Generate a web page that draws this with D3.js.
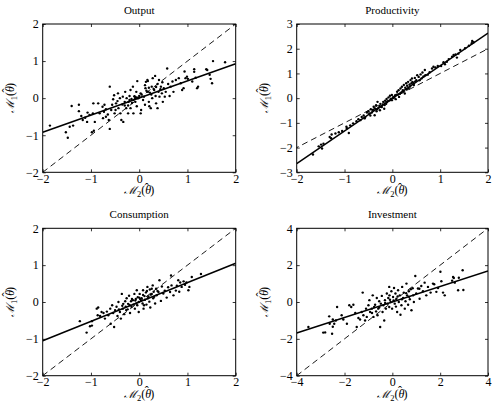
<!DOCTYPE html>
<html>
<head>
<meta charset="utf-8">
<script src="https://cdn.jsdelivr.net/npm/d3@7"></script>
<style>
  body { margin: 0; background: #fff; }
  text { font-family: 'Liberation Serif', 'Times New Roman', serif; fill: #000; }
</style>
</head>
<body>
<div id="chart"></div>
<script>

// Data

const titles = ['Output', 'Productivity', 'Consumption', 'Investment']

const xDomains = [[-2, 2], [-2, 2], [-2, 2], [-4, 4]]
const yDomains = [[-2, 2], [-3, 3], [-2, 2], [-4, 4]]

const xTicks = [[-2, -1, 0, 1, 2], [-2, -1, 0, 1, 2], [-2, -1, 0, 1, 2], [-4, -2, 0, 2, 4]]
const yTicks = [[-2, -1, 0, 1, 2], [-3, -2, -1, 0, 1, 2, 3], [-2, -1, 0, 1, 2], [-4, -2, 0, 2, 4]]

// solid fitted lines (endpoints)
const fitLines = [
  [[-2, -0.92], [2, 0.93]],
  [[-2, -2.65], [2, 2.63]],
  [[-2, -1.05], [2, 1.05]],
  [[-4, -1.68], [4, 1.68]]
]

// dashed 45 degree lines
const diagLines = [
  [[-2, -2], [2, 2]],
  [[-3, -3], [3, 3]],
  [[-2, -2], [2, 2]],
  [[-4, -4], [4, 4]]
]

const outputPts = [
  [-1.85,-0.74],[-1.48,-1.07],[-1.52,-0.92],[-1.44,-0.77],[-1.37,-0.74],[-1.40,-0.21],[-1.25,-0.18],[-1.25,-0.35],
  [-1.20,-0.48],[-1.17,-0.59],[-1.12,-0.53],[-1.08,-0.64],[-1.07,-0.39],[-1.03,-0.45],[-0.96,-0.41],[-0.95,-0.14],
  [-0.92,-0.64],[-0.94,-0.88],[-0.98,-0.92],[-0.85,-0.14],[-0.82,-0.41],[-0.76,-0.23],[-0.75,-0.54],[-0.73,-0.37],
  [-0.72,-0.18],[-0.69,-0.50],[-0.69,-0.30],[-0.65,-0.44],[-0.63,-0.59],[-0.61,-0.83],[-0.61,0.31],[-0.58,-0.32],
  [-0.56,-0.18],[-0.54,-0.03],[-0.52,0.08],[-0.51,-0.41],[-0.49,-0.32],[-0.48,-0.14],[-0.45,-0.08],[-0.44,0.13],
  [-0.43,-0.27],[-0.40,0.00],[-0.39,-0.41],[-0.37,-0.59],[-0.35,-0.17],[-0.34,0.04],[-0.33,-0.64],[-0.30,-0.10],
  [-0.29,0.17],[-0.27,-0.27],[-0.26,0.00],[-0.23,-0.41],[-0.23,-0.20],[-0.22,-0.10],[-0.20,0.06],[-0.18,0.22],
  [-0.18,-0.27],[-0.16,-0.02],[-0.15,-0.13],[-0.13,0.31],[-0.12,-0.41],[-0.09,0.04],[-0.08,-0.10],[-0.06,0.17],
  [-0.05,-0.22],[-0.02,0.00],[0.00,0.06],[-0.12,-0.05],[-0.08,0.00],[-0.20,-0.05],[-0.30,-0.20],[-0.04,0.46],
  [0.03,0.13],[0.04,-0.32],[0.03,-0.41],[0.10,0.04],[0.12,-0.18],[0.13,0.27],[0.14,0.44],[0.17,0.49],
  [0.18,0.17],[0.20,-0.10],[0.21,-0.22],[0.24,-0.27],[0.26,0.31],[0.27,0.00],[0.28,0.54],[0.31,0.22],
  [0.33,0.60],[0.34,0.06],[0.35,-0.14],[0.38,-0.27],[0.38,0.38],[0.40,0.17],[0.41,0.49],[0.42,0.04],
  [0.45,0.31],[0.47,0.13],[0.48,0.43],[0.49,-0.10],[0.51,0.27],[0.53,0.04],[0.55,0.17],[0.58,0.80],
  [0.60,0.38],[0.63,0.06],[0.65,0.31],[0.69,0.45],[0.71,0.17],[0.76,0.49],[0.82,0.54],[0.86,0.40],
  [0.89,0.22],[0.92,0.27],[0.96,0.54],[0.99,0.58],[1.01,0.52],[1.10,0.45],[1.14,0.71],[1.17,0.55],
  [1.20,0.27],[1.22,0.31],[1.41,0.76],[1.46,0.63],[1.48,0.52],[1.51,0.40],[1.53,1.00],[1.78,0.97],
  [0.94,0.72],[1.14,0.78],[1.39,0.78],[0.18,0.46],[-0.10,0.05],[0.05,0.10],[0.15,0.20],[0.22,0.15],
  [0.30,0.25],[0.25,0.10],[0.08,-0.05],[-0.05,0.02],[0.35,0.30],[0.44,0.24],[0.12,0.35],[0.20,0.28]
]

const productivityPts = [
  [-1.66,-2.28],[-1.54,-1.95],[-1.47,-2.04],[-1.49,-1.88],[-1.44,-1.84],[-1.31,-1.57],[-1.27,-1.47],[-1.28,-1.62],
  [-1.19,-1.43],[-0.96,-1.16],[-0.95,-1.22],[-0.91,-1.41],[-0.88,-1.10],[-0.75,-0.93],[-0.71,-0.85],[-0.67,-0.89],
  [-0.64,-0.76],[-0.60,-0.70],[-0.57,-0.78],[-0.53,-0.58],[-0.50,-0.53],[-0.48,-0.62],[-0.45,-0.45],[-0.43,-0.58],
  [-0.41,-0.49],[-0.39,-0.35],[-0.37,-0.69],[-0.36,-0.43],[-0.34,-0.29],[-0.33,-0.53],[-0.31,-0.15],[-0.29,-0.40],
  [-0.27,-0.32],[-0.26,-0.49],[-0.25,-0.23],[-0.22,-0.36],[-0.20,-0.27],[-0.19,-0.15],[-0.17,-0.43],[-0.15,-0.10],
  [-0.13,-0.23],[-0.12,-0.03],[-0.11,-0.16],[-0.08,0.03],[-0.06,-0.10],[-0.05,0.10],[-0.03,-0.07],[-0.01,0.13],
  [0.01,0.00],[-0.01,-0.08],[0.02,0.05],[0.06,0.12],[0.07,-0.04],[0.10,0.26],[0.12,0.15],[0.13,0.32],
  [0.14,0.05],[0.17,0.39],[0.19,0.23],[0.20,0.46],[0.22,0.32],[0.24,0.53],[0.26,0.19],[0.27,0.42],
  [0.29,0.60],[0.31,0.50],[0.33,0.66],[0.34,0.39],[0.36,0.55],[0.38,0.73],[0.40,0.60],[0.41,0.80],
  [0.42,0.66],[0.45,0.53],[0.47,0.82],[0.50,0.73],[0.52,0.93],[0.55,0.86],[0.59,0.96],[0.61,0.80],
  [0.63,1.04],[0.68,1.14],[0.69,0.93],[0.83,1.20],[0.86,1.27],[0.90,1.24],[1.07,1.45],[1.10,1.37],
  [1.14,1.47],[1.25,1.68],[1.28,1.75],[1.32,1.77],[1.35,1.64],[1.42,1.95],[1.67,2.31],[1.70,2.26],
  [1.66,2.22],[-1.12,-1.38],[-1.05,-1.33],[-0.82,-1.02],[-0.58,-0.82],[-0.46,-0.70],[-0.40,-0.47],[-0.32,-0.45],
  [-0.24,-0.35],[-0.16,-0.28],[-0.09,-0.12],[-0.03,-0.02],[0.04,0.02],[0.09,0.14],[0.16,0.18],[0.23,0.28],
  [0.30,0.35],[0.37,0.47],[0.44,0.62],[0.48,0.68],[0.57,0.72],[0.65,0.88],[0.74,0.95],[0.78,1.05],
  [0.95,1.30],[1.02,1.30],[1.18,1.58],[1.38,1.80],[1.52,2.02],[1.60,2.12]
]

const consumptionPts = [
  [-1.23,-0.52],[-1.09,-0.83],[-1.02,-0.66],[-0.98,-0.64],[-0.98,-0.52],[-0.88,-0.18],[-0.85,-0.15],[-0.86,-0.36],
  [-0.81,-0.38],[-0.78,-0.27],[-0.74,-0.30],[-0.71,-0.45],[-0.67,-0.26],[-0.64,-0.36],[-0.60,-0.18],[-0.59,-0.59],
  [-0.56,-0.09],[-0.54,-0.30],[-0.52,-0.68],[-0.50,-0.22],[-0.47,-0.13],[-0.45,-0.38],[-0.43,0.00],[-0.40,-0.27],
  [-0.38,-0.45],[-0.36,0.22],[-0.34,-0.18],[-0.33,-0.05],[-0.31,-0.33],[-0.29,0.02],[-0.28,-0.13],[-0.26,0.10],
  [-0.24,-0.20],[-0.23,-0.05],[-0.21,0.17],[-0.19,-0.30],[-0.17,0.02],[-0.16,-0.13],[-0.15,0.08],[-0.12,-0.07],
  [-0.10,0.22],[-0.09,-0.18],[-0.08,0.04],[-0.05,0.32],[-0.04,-0.09],[-0.03,0.13],[-0.01,0.00],[-0.01,-0.27],
  [0.01,0.22],[0.02,0.08],[0.08,0.32],[0.10,-0.09],[0.05,0.10],[0.07,-0.04],[0.08,0.19],[0.09,-0.18],
  [0.12,0.06],[0.14,0.26],[0.15,-0.07],[0.17,0.41],[0.19,0.15],[0.21,0.01],[0.22,0.34],[0.23,-0.15],
  [0.26,0.22],[0.28,0.45],[0.29,0.10],[0.30,0.28],[0.33,-0.04],[0.35,0.36],[0.36,0.18],[0.40,0.27],
  [0.42,0.59],[0.45,0.03],[0.47,0.42],[0.50,0.23],[0.53,0.31],[0.57,0.12],[0.60,0.40],[0.64,0.27],
  [0.67,0.45],[0.71,0.18],[0.76,0.31],[0.78,0.44],[0.81,0.59],[0.83,0.28],[0.85,0.53],[0.88,0.41],
  [0.92,0.56],[0.95,0.47],[0.98,0.53],[1.02,0.32],[1.04,0.41],[1.09,0.68],[1.28,0.76],[0.66,0.72],
  [-0.20,-0.08],[-0.13,0.05],[-0.06,-0.04],[0.00,0.12],[0.04,0.04],[0.11,0.16],[0.18,0.10],[0.24,0.20],
  [0.31,0.14],[0.38,0.30],[-0.27,-0.22],[-0.35,-0.10],[-0.42,-0.20],[-0.07,0.08],[0.16,0.30],[0.26,0.36]
]

const investmentPts = [
  [-3.51,-1.36],[-2.89,-1.66],[-2.64,-0.78],[-2.62,-1.18],[-2.49,-1.34],[-2.52,-1.72],[-2.43,-1.18],[-2.36,-1.00],
  [-2.31,-0.27],[-2.49,-0.95],[-2.12,-0.72],[-2.05,-0.95],[-1.90,-1.18],[-1.80,-0.18],[-1.72,-0.27],[-1.63,-0.15],
  [-1.49,-1.36],[-1.42,-0.87],[-1.35,-0.95],[-1.28,-0.54],[-1.24,0.51],[-1.21,-0.72],[-1.14,-1.00],[-1.10,-0.36],
  [-1.07,-0.81],[-1.00,-0.18],[-0.96,0.10],[-0.93,-0.54],[-0.86,-0.36],[-0.82,0.36],[-0.79,-0.81],[-0.76,-0.27],
  [-0.72,-0.15],[-0.68,-0.51],[-0.65,0.22],[-0.62,-0.72],[-0.59,-0.36],[-0.55,0.04],[-0.51,-1.36],[-0.48,-0.09],
  [-0.44,0.33],[-0.41,-0.54],[-0.38,-0.18],[-0.34,-1.00],[-0.31,0.10],[-0.27,-0.36],[-0.23,0.46],[-0.20,-0.09],
  [-0.17,0.22],[-0.13,-0.27],[-0.13,0.82],[-0.12,0.36],[-0.07,0.00],[-0.04,0.58],[-0.01,-0.36],[0.03,0.27],
  [0.07,0.76],[0.10,-0.09],[0.13,0.46],[0.17,0.18],[0.20,-0.54],[0.24,0.64],[0.27,0.00],[0.31,0.36],
  [0.34,-0.69],[0.38,-0.18],[0.41,0.82],[0.45,0.22],[0.48,0.51],[0.52,-0.36],[0.55,0.04],[0.59,1.00],
  [0.62,0.36],[0.66,-0.15],[0.69,0.58],[0.73,0.15],[0.77,0.69],[0.80,-0.45],[0.87,0.36],[0.90,0.00],
  [0.96,1.41],[1.00,0.46],[1.07,0.73],[1.14,0.18],[1.21,0.87],[1.28,0.58],[1.35,1.05],[1.42,0.36],
  [1.49,0.82],[1.60,0.51],[1.70,1.00],[1.84,0.55],[1.91,0.76],[2.05,1.13],[2.12,0.51],[2.19,0.36],
  [2.54,1.36],[2.61,1.05],[2.75,0.64],[2.78,1.32],[2.57,1.30],[2.94,1.72],[2.01,1.64],[1.13,0.72],
  [1.75,0.96],[2.50,1.16],[2.97,0.65],[-2.81,-1.65],[-0.30,-0.05],[-0.10,0.12],[0.05,0.08],[0.22,0.30],
  [0.40,0.15],[0.58,0.48],[0.70,0.28],[-0.55,-0.30],[-0.85,-0.60],[-1.55,-0.60],[0.15,-0.25],[0.85,0.75]
]

const panels = [outputPts, productivityPts, consumptionPts, investmentPts]

// Layout of the four axes boxes
const boxes = [
  { left: 42.7, right: 235.7, top: 24, bottom: 172.3 },
  { left: 296.7, right: 488, top: 24, bottom: 172.3 },
  { left: 42.7, right: 235.7, top: 228.3, bottom: 375.7 },
  { left: 296.7, right: 488, top: 228.3, bottom: 375.7 }
]

const svg = d3.select('#chart').append('svg')
  .attr('width', 492)
  .attr('height', 410)

// M_k(theta-hat), hat drawn as a separate glyph over the theta
function mathLabel(t, sub) {
  t.append('tspan').style('font-family', "'DejaVu Serif', serif").style('font-style', 'italic')
    .attr('font-size', 11).text('\u2133')
  t.append('tspan').attr('font-size', 8.5).attr('dy', 3).text(sub)
  t.append('tspan').attr('dy', -3).text('(')
  t.append('tspan').attr('font-style', 'italic').text('\u03B8')
  t.append('tspan').attr('dx', -6.5).attr('dy', -2.5).text('\u02C6')
  t.append('tspan').attr('dx', 1.5).attr('dy', 2.5).text(')')
}

panels.forEach((pts, i) => {
  const b = boxes[i]
  const w = b.right - b.left
  const h = b.bottom - b.top

  const x = d3.scaleLinear().domain(xDomains[i]).range([0, w])
  const y = d3.scaleLinear().domain(yDomains[i]).range([h, 0])

  const g = svg.append('g')
    .attr('transform', 'translate(' + b.left + ',' + b.top + ')')

  g.append('clipPath').attr('id', 'clip' + i)
    .append('rect').attr('width', w).attr('height', h)

  const plot = g.append('g').attr('clip-path', 'url(#clip' + i + ')')

  const line = d3.line().x(d => x(d[0])).y(d => y(d[1]))

  plot.append('path')
    .attr('d', line(diagLines[i]))
    .attr('fill', 'none')
    .attr('stroke', '#000')
    .attr('stroke-width', 0.9)
    .attr('stroke-dasharray', '6,4')

  plot.append('path')
    .attr('d', line(fitLines[i]))
    .attr('fill', 'none')
    .attr('stroke', '#000')
    .attr('stroke-width', 1.5)

  plot.selectAll('.pt')
    .data(pts)
    .enter().append('circle')
      .attr('class', 'pt')
      .attr('cx', d => x(d[0]))
      .attr('cy', d => y(d[1]))
      .attr('r', 1.2)
      .attr('fill', '#000')

  // axes, ticks inward on all four sides
  const fmt = d3.format('d')
  function styleAxis(a) {
    a.select('.domain').remove()
    a.selectAll('.tick line').attr('stroke', '#000').attr('stroke-width', 0.8)
    a.selectAll('.tick text')
      .style('font-family', "'Liberation Serif', 'Times New Roman', serif")
      .style('font-size', '12px')
  }

  g.append('g')
    .attr('transform', 'translate(0,' + h + ')')
    .call(d3.axisBottom(x).tickValues(xTicks[i]).tickFormat(fmt).tickSize(-3).tickSizeOuter(0).tickPadding(2))
    .call(styleAxis)

  g.append('g')
    .call(d3.axisTop(x).tickValues(xTicks[i]).tickSize(-3).tickSizeOuter(0).tickFormat(''))
    .call(styleAxis)

  g.append('g')
    .call(d3.axisLeft(y).tickValues(yTicks[i]).tickFormat(fmt).tickSize(-3).tickSizeOuter(0).tickPadding(4))
    .call(styleAxis)

  g.append('g')
    .attr('transform', 'translate(' + w + ',0)')
    .call(d3.axisRight(y).tickValues(yTicks[i]).tickSize(-3).tickSizeOuter(0).tickFormat(''))
    .call(styleAxis)

  g.append('rect')
    .attr('width', w)
    .attr('height', h)
    .attr('fill', 'none')
    .attr('stroke', '#000')
    .attr('stroke-width', 1)

  g.append('text')
    .attr('x', w / 2)
    .attr('y', -10)
    .attr('text-anchor', 'middle')
    .style('font-size', '11px')
    .text(titles[i])

  const xl = g.append('text')
    .attr('x', w / 2)
    .attr('y', h + 22)
    .attr('text-anchor', 'middle')
    .style('font-size', '12px')
  mathLabel(xl, '2')

  const yl = g.append('text')
    .attr('transform', 'translate(-29,' + (h / 2) + ') rotate(-90)')
    .attr('text-anchor', 'middle')
    .style('font-size', '12px')
  mathLabel(yl, '1')
})

</script>
</body>
</html>
